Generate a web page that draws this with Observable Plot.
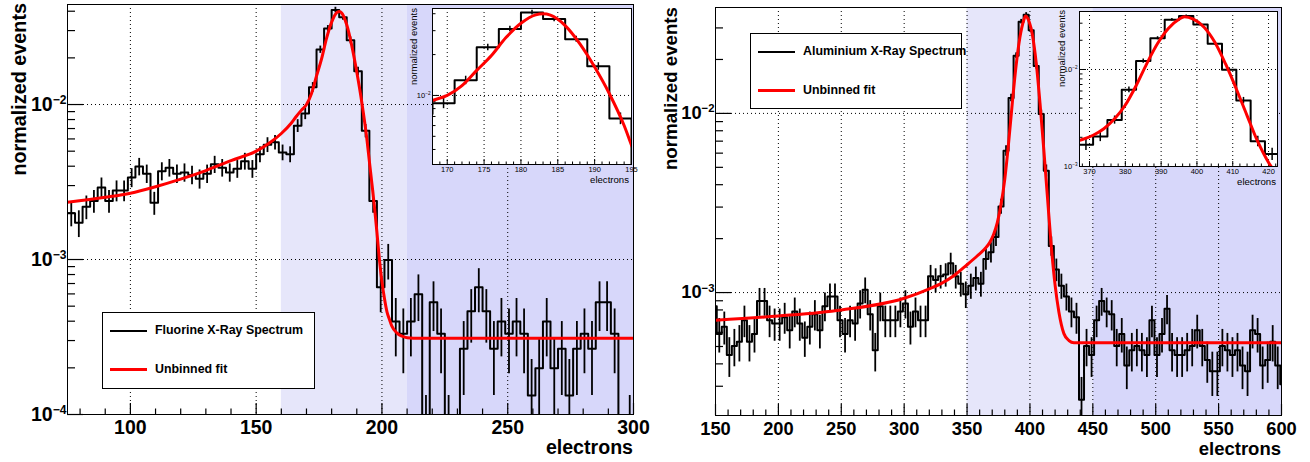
<!DOCTYPE html>
<html><head><meta charset="utf-8">
<script src="https://cdn.jsdelivr.net/npm/d3@7"></script>
<script src="https://cdn.jsdelivr.net/npm/@observablehq/plot@0.6"></script>
<style>
body{margin:0;background:#fff;}
#root{position:relative;width:1310px;height:462px;overflow:hidden;font-family:"Liberation Sans",Arial,Helvetica,sans-serif;}
#root svg{max-width:none;}
.t{position:absolute;white-space:nowrap;line-height:1;color:#000;}
</style></head><body><div id="root"></div><script>
// ---------------- data ----------------
// Fluorine spectrum: bins of 3 electrons starting at 75, counts (normalised by one count = leftUnit)
const leftBinStart = 75, leftBinWidth = 3, leftUnit = 6.63e-5;
const leftCounts = [30,26,33,36,44,36,42,42,51,60,54,35,56,59,54,55,53,50,54,62,
  59,55,58,65,58,72,83,86,74,72,110,132,195,341,466,615,551,392,247,102,
  36,10,15,6,5,6,9,1,8,5,1,0,4,7,10,7,4,6,5,6,
  5,2,3,6,3,4,2,4,5,4,8,8,5,0,1];
const leftFitX = [75,90,100,110,120,130,140,150,155,160,164,166,168,170,172,174,176,178,180,182,
  183,184,186,188,190,192,194,195,196,197,198,199,200,201,202,203,204,206,208,210,215,300];
const leftFitY = [2.34e-3,2.52e-3,2.68e-3,2.95e-3,3.3e-3,3.75e-3,4.35e-3,5.0e-3,5.6e-3,6.5e-3,
  7.6e-3,8.4e-3,9.2e-3,1.0e-2,1.18e-2,1.53e-2,1.97e-2,2.68e-2,3.4e-2,3.92e-2,
  3.99e-2,3.9e-2,3.27e-2,2.4e-2,1.62e-2,1.03e-2,6.0e-3,4.3e-3,3.1e-3,2.2e-3,
  1.5e-3,1.0e-3,7.2e-4,5.6e-4,4.6e-4,4.1e-4,3.7e-4,3.35e-4,3.2e-4,3.13e-4,3.1e-4,3.1e-4];
const leftBands = [[160,210],[210,300]];
const leftXTicks = [100,150,200,250,300];
const leftYTicks = [1e-4,1e-3,1e-2];
const leftInsetXTicks = [170,175,180,185,190,195];
const leftInsetYTicks = [1e-2];

// Aluminium spectrum: bins of 4 electrons starting at 147
const rightBinStart = 147, rightBinWidth = 4, rightUnit = 2.8e-5;
const rightCounts = [30,21,23,16,18,19,25,19,21,32,32,25,24,24,26,22,28,24,20,23,
  27,22,30,34,34,25,21,25,24,31,37,27,17,30,25,25,25,28,31,23,
  28,25,25,44,42,44,45,52,44,40,35,39,43,40,55,60,73,108,221,436,
  750,1161,1268,1039,657,354,171,65,48,39,34,28,26,9,18,16,25,32,28,27,
  18,21,14,17,18,17,16,25,16,21,29,17,16,16,17,18,22,18,15,13,
  13,18,17,16,17,14,13,22,21,14,15,19,14,11];
const rightFitX = [150,200,250,300,320,330,340,350,358,364,368,371,374,377,380,383,386,389,392,395,
  396.5,399,402,405,408,411,414,417,420,423,427,431,435,600];
const rightFitY = [7.0e-4,7.4e-4,8.0e-4,9.3e-4,1.05e-3,1.13e-3,1.25e-3,1.43e-3,1.6e-3,1.75e-3,
  1.9e-3,2.1e-3,2.45e-3,3.1e-3,4.3e-3,6.8e-3,1.15e-2,1.85e-2,2.65e-2,3.3e-2,
  3.5e-2,3.3e-2,2.73e-2,1.91e-2,1.14e-2,6.3e-3,3.35e-3,1.8e-3,1.1e-3,7.8e-4,5.9e-4,5.4e-4,5.25e-4,5.24e-4];
const rightBands = [[350,450],[450,600]];
const rightXTicks = [150,200,250,300,350,400,450,500,550,600];
const rightYTicks = [1e-3,1e-2];
const rightInsetXTicks = [370,380,390,400,410,420];
const rightInsetYTicks = [1e-3,1e-2];

// ---------------- helpers ----------------
const root = document.getElementById("root");
const BAND_LIGHT = "#e6e6fa", BAND_DARK = "#d7d7fa";

function histSteps(start, w, counts, unit, floor) {
  const pts = counts.map((c, i) => ({x: start + i * w, y: Math.max(c * unit, floor)}));
  pts.push({x: start + counts.length * w, y: pts[pts.length - 1].y});
  return pts;
}
function histErrors(start, w, counts, unit, floor) {
  return counts.map((c, i) => ({x: start + (i + 0.5) * w, y1: Math.max((c - Math.sqrt(c)) * unit, floor), y2: (c + Math.sqrt(c)) * unit, c}))
    .filter(d => d.c > 0);
}
function logMinor(dom) {
  const out = [];
  for (let k = Math.floor(Math.log10(dom[0])); k <= Math.ceil(Math.log10(dom[1])); k++)
    for (let m = 2; m <= 9; m++) { const v = m * Math.pow(10, k); if (v > dom[0] && v < dom[1]) out.push(v); }
  return out;
}
function supFix(svg) {
  svg.querySelectorAll('g[aria-label="y-axis tick label"] text').forEach(t => {
    const s = t.textContent, i = s.indexOf("^");
    if (i < 0) return;
    t.textContent = s.slice(0, i);
    const ts = document.createElementNS("http://www.w3.org/2000/svg", "tspan");
    ts.setAttribute("dy", "-0.6em");
    ts.setAttribute("font-size", "0.62em");
    ts.textContent = s.slice(i + 1);
    t.appendChild(ts);
  });
}
const expFmt = d => "10^" + String(Math.round(Math.log10(d))).replace("-", "\u2212");

function panel(c) {
  const innerW = c.width - c.ml - c.mr, innerH = c.height - c.mt - c.mb;
  const floor = c.yDomain[0] * 0.3;
  const steps = histSteps(c.binStart, c.binWidth, c.counts, c.unit, floor);
  const errs = histErrors(c.binStart, c.binWidth, c.counts, c.unit, floor);
  const fit = c.fitX.map((x, i) => ({x, y: c.fitY[i]}));
  const minorX = d3.range(c.xMinor[0], c.xDomain[1] + 1e-9, c.xMinor[1]).filter(v => v >= c.xDomain[0] && !c.xTicks.includes(v));
  const yMinor = logMinor(c.yDomain);
  const marks = [];
  if (c.whiteFrame) marks.push(Plot.frame({fill: "white"}));
  if (c.bands) {
    marks.push(Plot.rect([c.bands[0]], {x1: d => d[0], x2: d => d[1], fill: BAND_LIGHT}));
    marks.push(Plot.rect([c.bands[1]], {x1: d => d[0], x2: d => d[1], fill: BAND_DARK}));
  }
  marks.push(
    Plot.ruleX(c.xGrid, {x: d => d, stroke: "#000", strokeWidth: 1, strokeDasharray: "1,3"}),
    Plot.ruleY(c.yGrid, {y: d => d, stroke: "#000", strokeWidth: 1, strokeDasharray: "1,3"}),
    Plot.tickX(c.xTicks, {x: d => d, insetTop: innerH - c.tk[0], stroke: "#000", strokeWidth: c.tw}),
    Plot.tickX(minorX, {x: d => d, insetTop: innerH - c.tk[1], stroke: "#000", strokeWidth: c.tw}),
    Plot.tickY(c.yTicksAll, {y: d => d, insetRight: innerW - c.tk[2], stroke: "#000", strokeWidth: c.tw}),
    Plot.tickY(yMinor, {y: d => d, insetRight: innerW - c.tk[3], stroke: "#000", strokeWidth: c.tw}),
    Plot.ruleX(errs, {x: "x", y1: "y1", y2: "y2", stroke: "#000", strokeWidth: c.ew, clip: true}),
    Plot.line(steps, {x: "x", y: "y", curve: "step-after", stroke: "#000", strokeWidth: c.hw, clip: true}),
    Plot.line(fit, {x: "x", y: "y", curve: "monotone-x", stroke: "#ff0000", strokeWidth: c.fw, clip: true}),
    Plot.frame({stroke: "#000", strokeWidth: 1}),
    Plot.axisX({ticks: c.xTicks, tickSize: 0, tickPadding: c.xPad, tickFormat: d => String(d), label: null, fontSize: c.fs, fontWeight: c.fwt}),
    Plot.axisY({ticks: c.yLabelTicks, tickSize: 0, tickPadding: c.yPad, tickFormat: expFmt, label: null, fontSize: c.fs, fontWeight: c.fwt})
  );
  const svg = Plot.plot({
    width: c.width, height: c.height,
    marginLeft: c.ml, marginRight: c.mr, marginTop: c.mt, marginBottom: c.mb,
    x: {domain: c.xDomain}, y: {type: "log", domain: c.yDomain},
    style: {background: "transparent", fontFamily: "'Liberation Sans', Arial, sans-serif", fontWeight: c.fwt, overflow: "visible"},
    marks
  });
  supFix(svg);
  svg.style.position = "absolute";
  svg.style.left = c.left + "px";
  svg.style.top = c.top + "px";
  root.appendChild(svg);
}

function text(str, o) {
  const d = document.createElement("div");
  d.className = "t";
  d.textContent = str;
  d.style.fontSize = o.size + "px";
  d.style.fontWeight = o.bold ? "bold" : "normal";
  const base = 0.8465 * o.size;
  if (o.rotate) {
    const W = 400;
    d.style.width = W + "px";
    d.style.textAlign = "right";
    d.style.left = "0px"; d.style.top = "0px";
    d.style.transformOrigin = "0 0";
    d.style.transform = `translate(${o.x - base}px, ${o.endY + W}px) rotate(-90deg)`;
  } else if (o.anchor === "end") {
    d.style.width = "600px"; d.style.textAlign = "right";
    d.style.left = (o.x - 600) + "px"; d.style.top = (o.y - base) + "px";
  } else {
    d.style.left = o.x + "px"; d.style.top = (o.y - base) + "px";
  }
  root.appendChild(d);
}
function box(l, t, w, h, style) {
  const d = document.createElement("div");
  d.style.position = "absolute"; d.style.left = l + "px"; d.style.top = t + "px";
  d.style.width = w + "px"; d.style.height = h + "px"; d.style.boxSizing = "border-box";
  Object.assign(d.style, style);
  root.appendChild(d);
}
function legend(l, t, w, h, label) {
  box(l, t, w, h, {background: "#fff", border: "1px solid #000"});
  box(l + 8, t + 18, 37, 2, {background: "#000"});
  box(l + 8, t + 56, 37, 3, {background: "#ff0000"});
  text(label, {x: l + 53, y: t + 22.5, size: 12.4, bold: true});
  text("Unbinned fit", {x: l + 53, y: t + 61.5, size: 12.4, bold: true});
}

// ---------------- left (Fluorine) ----------------
panel({left: 0, top: 0, width: 655, height: 462, ml: 67, mr: 22, mt: 4, mb: 48,
  xDomain: [75, 300], yDomain: [1e-4, 0.0442],
  binStart: leftBinStart, binWidth: leftBinWidth, counts: leftCounts, unit: leftUnit,
  fitX: leftFitX, fitY: leftFitY, bands: leftBands,
  xTicks: leftXTicks, xMinor: [80, 10], xGrid: [100, 150, 200, 250], yGrid: [1e-3, 1e-2],
  yTicksAll: leftYTicks, yLabelTicks: leftYTicks,
  tk: [11, 5.5, 16, 8], tw: 1.2, ew: 1.8, hw: 2, fw: 3,
  fs: 19.5, fwt: "bold", xPad: 6, yPad: 1});
// ---------------- right (Aluminium) ----------------
panel({left: 655, top: 0, width: 655, height: 462, ml: 60, mr: 29, mt: 7, mb: 47,
  xDomain: [150, 600], yDomain: [2.06e-4, 0.039],
  binStart: rightBinStart, binWidth: rightBinWidth, counts: rightCounts, unit: rightUnit,
  fitX: rightFitX, fitY: rightFitY, bands: rightBands,
  xTicks: rightXTicks, xMinor: [160, 10], xGrid: [200, 250, 300, 350, 400, 450, 500, 550], yGrid: [1e-3, 1e-2],
  yTicksAll: rightYTicks, yLabelTicks: rightYTicks,
  tk: [11, 5.5, 16, 8], tw: 1.2, ew: 1.8, hw: 2, fw: 3,
  fs: 18.3, fwt: "bold", xPad: 6, yPad: 1});

// ---------------- insets ----------------
panel({left: 395, top: 0, width: 240, height: 190, ml: 37, mr: 4, mt: 8, mb: 26,
  xDomain: [168, 195], yDomain: [3.1e-3, 0.0437], whiteFrame: true,
  binStart: leftBinStart, binWidth: leftBinWidth, counts: leftCounts, unit: leftUnit,
  fitX: leftFitX, fitY: leftFitY,
  xTicks: leftInsetXTicks, xMinor: [168, 1], xGrid: [170, 175, 180, 185, 190], yGrid: [1e-2],
  yTicksAll: leftInsetYTicks, yLabelTicks: leftInsetYTicks,
  tk: [5, 2.5, 7, 3.5], tw: 1, ew: 1.5, hw: 2, fw: 3,
  fs: 7.5, fwt: "normal", xPad: 2, yPad: 2});
panel({left: 1040, top: 0, width: 240, height: 195, ml: 39, mr: 3, mt: 11, mb: 29,
  xDomain: [367.2, 422.5], yDomain: [1e-3, 0.0396], whiteFrame: true,
  binStart: rightBinStart, binWidth: rightBinWidth, counts: rightCounts, unit: rightUnit,
  fitX: rightFitX, fitY: rightFitY,
  xTicks: rightInsetXTicks, xMinor: [368, 2], xGrid: [370, 380, 390, 400, 410, 420], yGrid: [1e-2],
  yTicksAll: rightInsetYTicks, yLabelTicks: rightInsetYTicks,
  tk: [5, 2.5, 7, 3.5], tw: 1, ew: 1.5, hw: 2, fw: 3,
  fs: 7.5, fwt: "normal", xPad: 2, yPad: 2});

// ---------------- labels & legends ----------------
text("normalized events", {rotate: true, x: 27, endY: 3, size: 19.8, bold: true});
text("electrons", {anchor: "end", x: 633, y: 455, size: 19.6, bold: true});
text("normalized events", {rotate: true, x: 678, endY: 7, size: 18.7, bold: true});
text("electrons", {anchor: "end", x: 1281, y: 456, size: 18.5, bold: true});
text("normalized events", {rotate: true, x: 417, endY: 8, size: 9.5});
text("electrons", {anchor: "end", x: 629, y: 183, size: 9.6});
text("normalized events", {rotate: true, x: 1065, endY: 10, size: 9.5});
text("electrons", {anchor: "end", x: 1276, y: 185, size: 9.6});
legend(102, 312, 213, 77, "Fluorine X-Ray Spectrum");
legend(750, 33, 212, 76, "Aluminium X-Ray Spectrum");
</script></body></html>
